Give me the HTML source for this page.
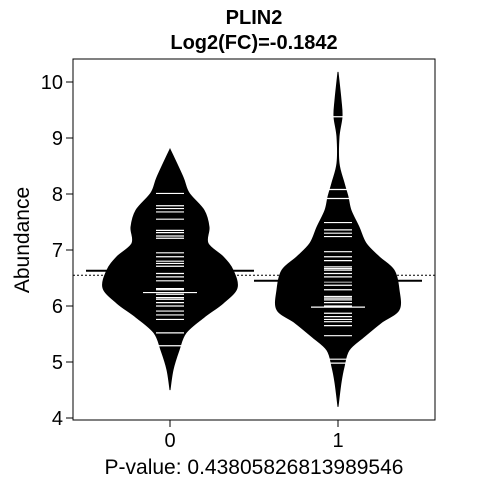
<!DOCTYPE html>
<html><head><meta charset="utf-8"><style>
body{margin:0;background:#fff}
svg text{font-family:"Liberation Sans",Arial,sans-serif}
</style></head><body>
<svg id="c" width="480" height="480" xmlns="http://www.w3.org/2000/svg">
<rect x="0" y="0" width="480" height="480" fill="#fff"/>
<text x="254" y="24" text-anchor="middle" font-size="20" font-weight="bold">PLIN2</text>
<text x="254" y="49" text-anchor="middle" font-size="20" font-weight="bold">Log2(FC)=-0.1842</text>
<text transform="translate(29,240) rotate(-90)" text-anchor="middle" font-size="21">Abundance</text>
<text x="254" y="474" text-anchor="middle" font-size="21">P-value: 0.43805826813989546</text>
<g id="plot"></g>
<rect x="73" y="59" width="362" height="361" fill="none" stroke="#000" stroke-width="1"/>
</svg>
<script>
const categories=["0","1"];
const yTicks=[4,5,6,7,8,9,10];
const levels0=[4.50,4.86,5.21,5.52,5.80,6.05,6.32,6.64,6.88,7.12,7.41,7.71,8.02,8.30,8.80];
const dens0=[0,3,9,16,34,53,67,63,53,38,39,34,19,13,0];
const levels1=[4.20,4.63,4.91,5.21,5.45,5.70,5.93,6.29,6.64,6.88,7.12,7.41,7.71,7.95,8.20,8.55,9.02,9.38,9.68,10.18];
const dens1=[0,3,6,11,26,43,61,61,56,41,28,21,13,10,6,1,1,4,3,0];
const obs0=[8.01,7.79,7.74,7.68,7.55,7.35,7.31,7.25,7.21,6.95,6.88,6.80,6.76,6.71,6.58,6.52,6.45,6.31,6.29,6.21,6.15,6.12,6.06,6.00,5.91,5.84,5.76,5.52,5.29];
const obs1=[9.38,8.08,7.92,7.49,7.36,7.30,7.24,6.97,6.88,6.81,6.70,6.67,6.64,6.58,6.52,6.43,6.37,6.29,6.17,6.14,6.11,6.06,6.00,5.87,5.81,5.76,5.72,5.65,5.47,5.05,4.98];
const medians=[6.24,5.98];
const means=[6.63,6.45];
const overallMean=6.55;

const NS="http://www.w3.org/2000/svg";
const g=document.getElementById('plot');
const y=v=>418-(v-4)*56;
const x=i=>170+i*168;
const w=d=>d;
function mk(t,a){const e=document.createElementNS(NS,t);for(const k in a)e.setAttribute(k,a[k]);g.appendChild(e);return e;}
function smooth(p){ // catmull-rom through points [[x,y]...]
  let d='M'+p[0][0]+','+p[0][1];
  for(let i=0;i<p.length-1;i++){
    const p0=p[Math.max(0,i-1)],p1=p[i],p2=p[i+1],p3=p[Math.min(p.length-1,i+2)];
    const c1=[p1[0]+(p2[0]-p0[0])/6,p1[1]+(p2[1]-p0[1])/6];
    const c2=[p2[0]-(p3[0]-p1[0])/6,p2[1]-(p3[1]-p1[1])/6];
    d+=' C'+c1[0]+','+c1[1]+' '+c2[0]+','+c2[1]+' '+p2[0]+','+p2[1];
  }
  return d;
}

yTicks.forEach(t=>{
  const l=mk('line',{x1:66,x2:73,y1:y(t),y2:y(t),stroke:'#000'});
  
  
  const tx=mk('text',{x:63,y:y(t)+7,'text-anchor':'end','font-size':20});
  tx.textContent=t;
  
  
});
categories.forEach((c,i)=>{
  const l=mk('line',{x1:x(i),x2:x(i),y1:420,y2:427,stroke:'#000'});
  
  
  const tx=mk('text',{x:x(i),y:447,'text-anchor':'middle','font-size':20});
  tx.textContent=c;
  
  
});
const ol=mk('line',{x1:73,x2:435,y1:y(overallMean),y2:y(overallMean),stroke:'#000','stroke-dasharray':'2,2','stroke-width':1});



const beans=[[levels0,dens0,obs0],[levels1,dens1,obs1]];
beans.forEach(([lv,dn,ob],i)=>{
  const right=lv.map((v,k)=>[x(i)+w(dn[k]),y(v)]);
  const left=lv.map((v,k)=>[x(i)-w(dn[k]),y(v)]).reverse();
  const d=smooth(right)+' L'+smooth(left).slice(1)+' Z';
  const p=mk('path',{d:d,fill:'#000',stroke:'#000','stroke-width':1});
  
  
  ob.forEach(v=>{
    const l=mk('line',{x1:x(i)-14,x2:x(i)+14,y1:y(v),y2:y(v),stroke:'#fff','stroke-width':1.2});
    
    
  });
  const md=mk('line',{x1:x(i)-27,x2:x(i)+27,y1:y(medians[i]),y2:y(medians[i]),stroke:'#fff','stroke-width':1.2});
  
  
  const mn=mk('line',{x1:x(i)-84,x2:x(i)+84,y1:y(means[i]),y2:y(means[i]),stroke:'#000','stroke-width':2});
  
  
});
</script>
</body></html>
